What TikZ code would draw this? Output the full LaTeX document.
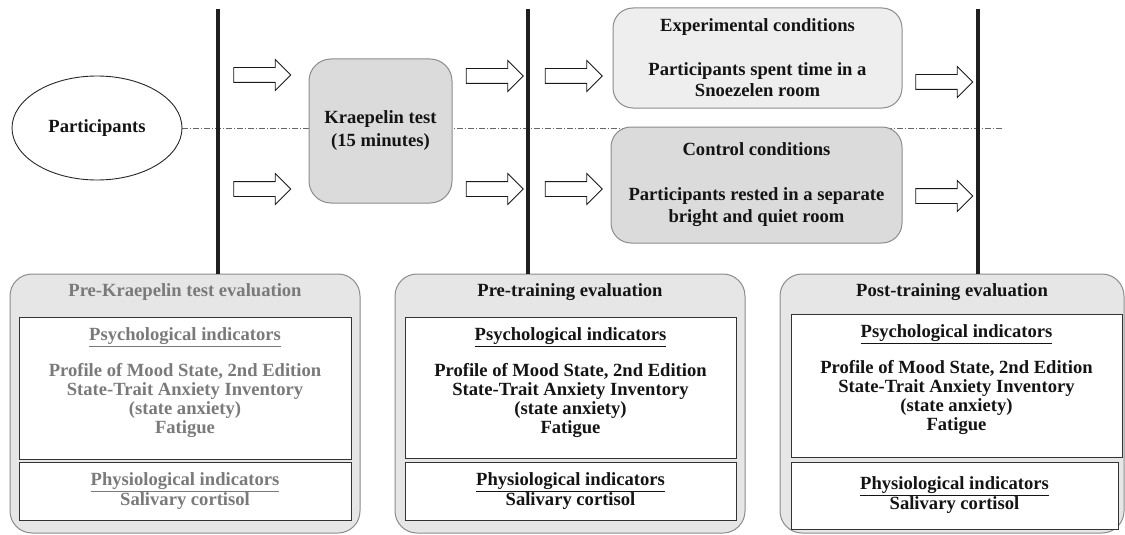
\documentclass[tikz,border=0pt]{standalone}
\usepackage{fontspec}
\setmainfont{Liberation Serif}
\usetikzlibrary{shapes.arrows,shapes.geometric,backgrounds}
\definecolor{lightfill}{HTML}{EEEEEE}
\definecolor{midfill}{HTML}{DBDBDC}
\definecolor{evalfill}{HTML}{E6E6E7}
\definecolor{edgegray}{HTML}{8C8C8C}
\definecolor{fadedtext}{HTML}{7A7A7A}

\begin{document}
\begin{tikzpicture}[x=1pt,y=-1pt]
  \tikzset{
    txt/.style={font=\fontsize{18.6}{20}\selectfont\bfseries, align=center, text=black!92, inner sep=0pt},
    rbox/.style={draw=edgegray, line width=1pt, rounded corners=22pt, inner sep=0pt},
    evalbox/.style={rbox, fill=evalfill, minimum width=#1, minimum height=259pt},
    indbox/.style={draw=black!80, fill=white, line width=1pt, inner sep=0pt},
    flow/.style={single arrow, draw=black!90, fill=white, line width=0.8pt, inner xsep=0pt, inner ysep=7pt,
      minimum height=57pt, single arrow head extend=8pt},
    divider/.style={line width=3.5pt, black!88},
    split/.style={dash pattern=on 6pt off 2pt on 1pt off 2pt, black!60, line width=0.6pt}
  }
  \useasboundingbox (0,0) rectangle (1125,535);

  % top row
  \node[draw=black!85, line width=0.9pt, ellipse, minimum width=170pt, minimum height=104pt, txt] (part) at (97,128) {Participants};
  \node[rbox, fill=midfill, minimum width=143pt, minimum height=144pt, txt, font=\fontsize{18.6}{23}\selectfont\bfseries] (kraep) at (380.5,131) {Kraepelin test\\(15 minutes)};
  \node[rbox, rounded corners=20pt, fill=lightfill, minimum width=289pt, minimum height=100pt, txt, font=\fontsize{18.6}{21}\selectfont\bfseries] (exper) at (757.5,58)
    {Experimental conditions\\[23pt]Participants spent time in a\\Snoezelen room};
  \node[rbox, rounded corners=20pt, fill=midfill, minimum width=291pt, minimum height=116pt, txt, font=\fontsize{18.6}{22}\selectfont\bfseries] (control) at (756.5,185)
    {Control conditions\\[23pt]Participants rested in a separate\\bright and quiet room};

  \node[flow] (a1) at (258.5,75) {};
  \node[flow] (a2) at (258.5,189) {};
  \node[flow] (a3) at (491,76) {};
  \node[flow] (a4) at (491,189) {};
  \node[flow] (a5) at (570,76) {};
  \node[flow] (a6) at (570,189) {};
  \node[flow] (a7) at (940.5,82) {};
  \node[flow] (a8) at (940.5,196) {};

  % evaluation boxes
  \node[evalbox=350pt] (eval1) at (185,403.5) {};
  \node[evalbox=350pt] (eval2) at (570,403.5) {};
  \node[evalbox=344pt] (eval3) at (952,403.5) {};

  \node[indbox, minimum width=332pt, minimum height=142pt] (psy1) at (185,388) {};
  \node[indbox, minimum width=332pt, minimum height=58pt] (phy1) at (185,491) {};
  \node[indbox, minimum width=331pt, minimum height=141pt] (psy2) at (570.5,387.5) {};
  \node[indbox, minimum width=331pt, minimum height=58pt] (phy2) at (570.5,491) {};
  \node[indbox, minimum width=331pt, minimum height=143pt] (psy3) at (956.5,385.5) {};
  \node[indbox, minimum width=327pt, minimum height=67pt] (phy3) at (954.5,495.5) {};

  \node[txt, text=fadedtext, anchor=north] (title1) at ([yshift=-10pt]eval1.north) {Pre-Kraepelin test evaluation};
  \node[txt, anchor=north] (title2) at ([yshift=-10pt]eval2.north) {Pre-training evaluation};
  \node[txt, anchor=north] (title3) at ([yshift=-10pt]eval3.north) {Post-training evaluation};

  \node[txt, text=fadedtext, anchor=north, font=\fontsize{18.6}{19}\selectfont\bfseries] (psytext1) at ([yshift=-11pt]psy1.north)
    {\underline{Psychological indicators}\\[16pt]Profile of Mood State, 2nd Edition\\State-Trait Anxiety Inventory\\(state anxiety)\\Fatigue};
  \node[txt, anchor=north, font=\fontsize{18.6}{19}\selectfont\bfseries] (psytext2) at ([yshift=-11pt]psy2.north)
    {\underline{Psychological indicators}\\[16pt]Profile of Mood State, 2nd Edition\\State-Trait Anxiety Inventory\\(state anxiety)\\Fatigue};
  \node[txt, anchor=north, font=\fontsize{18.6}{19}\selectfont\bfseries] (psytext3) at ([yshift=-11pt]psy3.north)
    {\underline{Psychological indicators}\\[16pt]Profile of Mood State, 2nd Edition\\State-Trait Anxiety Inventory\\(state anxiety)\\Fatigue};

  \node[txt, text=fadedtext] (phytext1) at (phy1) {\underline{Physiological indicators}\\Salivary cortisol};
  \node[txt] (phytext2) at (phy2) {\underline{Physiological indicators}\\Salivary cortisol};
  \node[txt] (phytext3) at (phy3) {\underline{Physiological indicators}\\Salivary cortisol};

  % stage dividers
  \coordinate (top1) at (218,9);
  \coordinate (top2) at (528,9);
  \coordinate (top3) at (978,9);
  \draw[divider] (top1) -- (top1 |- eval1.north);
  \draw[divider] (top2) -- (top2 |- eval2.north);
  \draw[divider] (top3) -- (top3 |- eval3.north);

  % group split
  \coordinate (splitend) at (1002,128);
  \begin{scope}[on background layer]
    \draw[split] (part.east) -- (splitend);
  \end{scope}
\end{tikzpicture}
\end{document}
